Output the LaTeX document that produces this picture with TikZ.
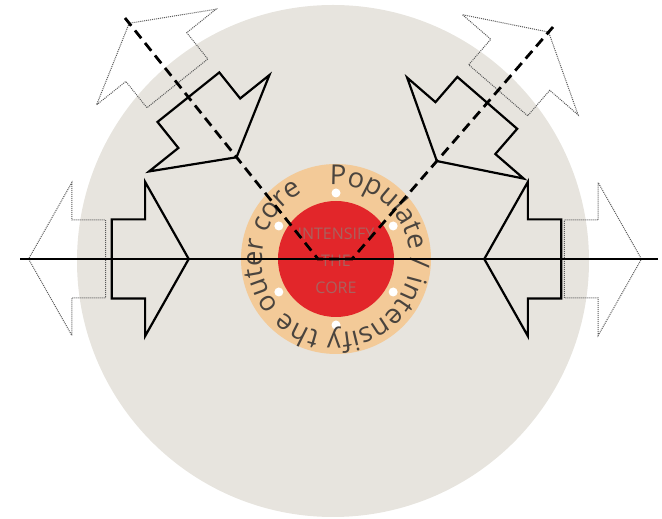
\documentclass[tikz,border=0pt]{standalone}
\usepackage{fontspec}
\usetikzlibrary{calc,shapes.arrows,decorations.text}
\newfontfamily\ringfont{Open Sans}
\definecolor{Disc}{HTML}{E7E4DE}
\definecolor{Ring}{HTML}{F3CA98}
\definecolor{Core}{HTML}{E2262A}
\definecolor{CoreText}{HTML}{A9625E}
\definecolor{RingText}{HTML}{4A443E}

\begin{document}
\begin{tikzpicture}[x=1pt,y=1pt,
          blockarrow/.style={single arrow,minimum height=77pt,inner xsep=0pt,inner ysep=38.5pt,
            single arrow head extend=37.5pt,single arrow tip angle=121},
          solidarrow/.style={blockarrow,draw=black,line width=2.2pt,line join=miter},
          dottedarrow/.style={blockarrow,draw=black!65,line width=1pt,
            dash pattern=on 1pt off 1pt},
          ringdot/.style={circle,fill=white,minimum size=9pt,inner sep=0pt},
          axisline/.style={line width=2.8pt,black},
          diagline/.style={line width=2.8pt,black,dash pattern=on 10pt off 6pt}]
        \useasboundingbox (0,0) rectangle (662,519);
        \fill[Disc] (333,258) circle[radius=256];
        \coordinate (c) at (336,260);
        \fill[Ring] (c) circle[radius=95];
        \node[circle,fill=Core,minimum size=116pt,inner sep=0pt] (core) at (c) {};
        \foreach \a in {30,90,...,330}
          \node[ringdot] (dot\a) at ($(c)+(\a:66)$) {};
        \node[font=\ringfont\fontsize{16}{27}\selectfont,text=CoreText,align=center]
          (coretext) at (336,258) {INTENSIFY\\THE\\CORE};
        % text round the ring, clockwise from the top
        \path[decorate,decoration={text along path,text align=left,
            text={|\ringfont\fontsize{27.5}{28}\selectfont\color{RingText}|Populate / intensify the outer core}}]
          (c) ++(95:74) arc[start angle=95,delta angle=-360,radius=74];
        % arrows in and out
        \node[solidarrow,anchor=tip] (inW) at (190,260) {};
        \node[solidarrow,anchor=tip,rotate=180] (inE) at (483,260) {};
        \node[dottedarrow,anchor=tip,rotate=180] (outW) at (28,260) {};
        \node[dottedarrow,anchor=tip] (outE) at (642,260) {};
        \coordinate (west) at (20,260);
        \coordinate (east) at (658,260);
        \coordinate (nw) at (125,501);
        \coordinate (vl) at (318,260);
        \coordinate (vr) at (352,260);
        \coordinate (ne) at (553,492);
        \node[solidarrow,anchor=tip,rotate=-51.3] (inNW) at ($(vl)!0.418!(nw)$) {};
        \node[dottedarrow,anchor=tip,rotate=128.7] (outNW) at ($(vl)!0.98!(nw)$) {};
        \node[solidarrow,anchor=tip,rotate=229.1] (inNE) at ($(vr)!0.418!(ne)$) {};
        \node[dottedarrow,anchor=tip,rotate=49.1] (outNE) at ($(vr)!0.98!(ne)$) {};
        \draw[axisline] (west) -- (east);
        \draw[diagline] (nw) -- (vl) -- (vr) -- (ne);
      \end{tikzpicture}
\end{document}
